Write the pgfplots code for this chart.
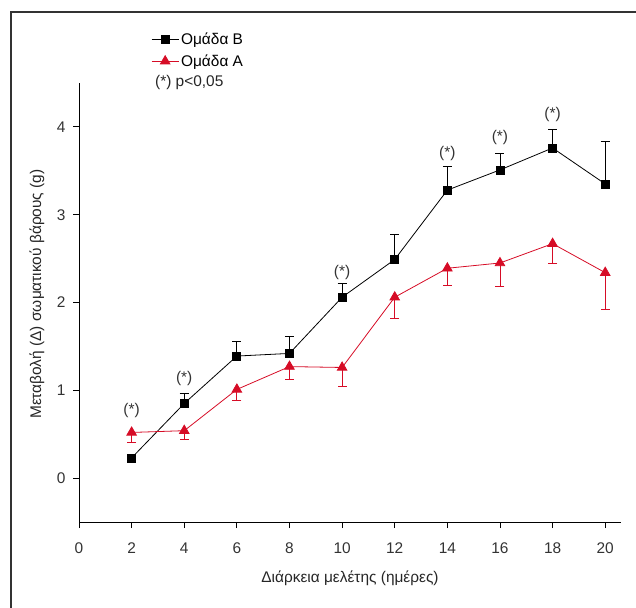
\documentclass[border=0pt]{standalone}
\usepackage{fontspec}
\setmainfont{Liberation Sans}
\usepackage{pgfplots}
\pgfplotsset{compat=1.18}

\definecolor{grpA}{RGB}{214,12,38}
\newcommand{\lbl}{\fontsize{15.5}{18}\selectfont}

\begin{document}
\begin{tikzpicture}
  \useasboundingbox (0,0) rectangle (636bp,608bp);
  % outer frame (cut at the right and bottom edges)
  \draw[line width=1.3bp, black!80] (11bp,-20bp) |- (660bp,596bp);

  \begin{axis}[
      at={(79bp,86bp)}, anchor=south west,
      scale only axis, width=542bp, height=439bp,
      xmin=0, xmax=20.6, ymin=-0.5, ymax=4.5,
      xtick={0,2,...,20}, ytick={0,1,2,3,4},
      axis x line*=bottom, axis y line*=left,
      tick align=outside, major tick length=6bp,
      every tick/.style={black, line width=0.8bp},
      axis line style={line width=0.9bp},
      /pgf/number format/assume math mode=true,
      ticklabel style={font=\lbl, black!80},
      xticklabel style={yshift=-11bp},
      yticklabel style={xshift=-4bp},
      xlabel={Διάρκεια μελέτης (ημέρες)},
      ylabel={Μεταβολή (Δ) σωματικού βάρους (g)},
      label style={font=\lbl, black!85},
      xlabel style={at={(axis description cs:0.5,-0.1276)}, anchor=center},
      ylabel style={at={(axis description cs:-0.0775,0.519)}, anchor=center},
      clip=false,
      legend style={at={(axis description cs:0.133,1.12)}, anchor=north west,
        draw=none, fill=none, font=\lbl, inner sep=0pt, row sep=5bp,
        nodes={inner sep=2bp}},
      legend cell align=left,
      legend image code/.code={
        \draw[mark repeat=2, mark phase=2, #1]
          plot coordinates {(0bp,0bp) (13.5bp,0bp) (27bp,0bp)};},
    ]
    % Group B: mean and upper error
    \addplot[black, line width=0.8bp, mark=square*, mark size=4bp,
      mark options={solid},
      error bars/.cd, y dir=plus, y explicit,
      error bar style={black, line width=0.8bp},
      error mark options={rotate=90, mark size=4.5bp, black, line width=0.8bp}]
      table[x=x, y=y, y error=e] {
        x   y     e
        2   0.23  0.04
        4   0.85  0.12
        6   1.39  0.17
        8   1.42  0.19
        10  2.06  0.16
        12  2.49  0.29
        14  3.28  0.27
        16  3.51  0.19
        18  3.76  0.21
        20  3.35  0.48
      };
    \addlegendentry{Ομάδα B}
    % Group A: mean and lower error
    \addplot[grpA, line width=0.8bp, mark=triangle*, mark size=5.5bp,
      mark options={solid},
      error bars/.cd, y dir=minus, y explicit,
      error bar style={grpA, line width=0.8bp},
      error mark options={rotate=90, mark size=4.5bp, grpA, line width=0.8bp}]
      table[x=x, y=y, y error=e] {
        x   y     e
        2   0.52  0.11
        4   0.54  0.10
        6   1.01  0.12
        8   1.27  0.15
        10  1.26  0.21
        12  2.06  0.24
        14  2.39  0.19
        16  2.45  0.27
        18  2.67  0.23
        20  2.34  0.42
      };
    \addlegendentry{Ομάδα A}

    % significance marks
    \node[font=\lbl, black!80] at (axis cs:2,0.77) {(*)};
    \node[font=\lbl, black!80] at (axis cs:4,1.13) {(*)};
    \node[font=\lbl, black!80] at (axis cs:10,2.34) {(*)};
    \node[font=\lbl, black!80] at (axis cs:14,3.70) {(*)};
    \node[font=\lbl, black!80] at (axis cs:16,3.88) {(*)};
    \node[font=\lbl, black!80] at (axis cs:18,4.14) {(*)};
    \node[font=\lbl, black!85, anchor=west] at (axis description cs:0.134,1.0) {(*) p<0,05};
  \end{axis}
\end{tikzpicture}
\end{document}
